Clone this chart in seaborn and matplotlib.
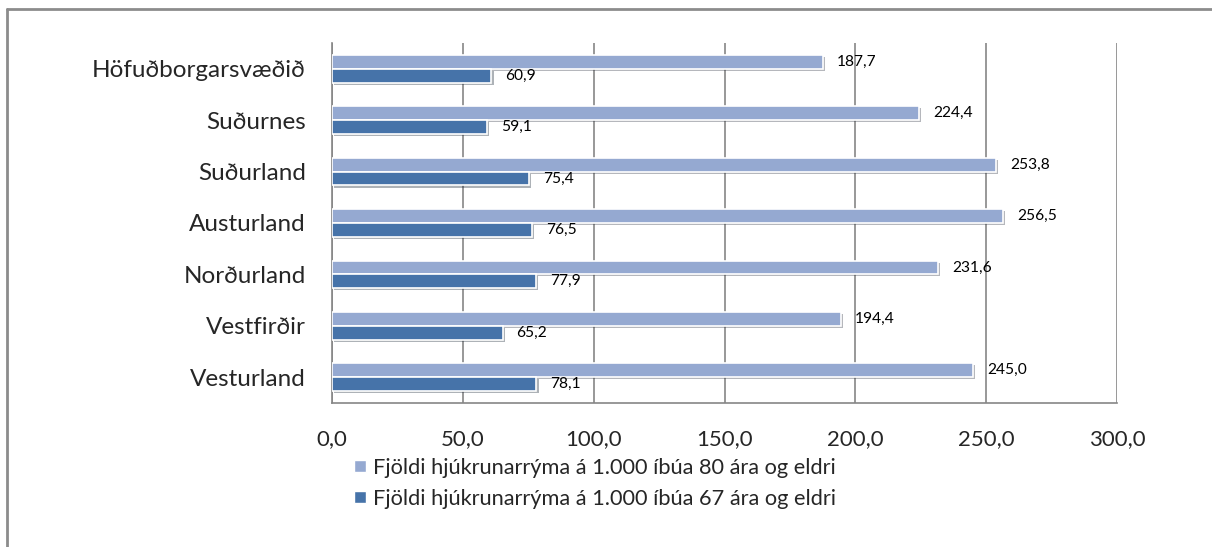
import pandas as pd
import matplotlib.pyplot as plt
import matplotlib.patheffects as pe
from matplotlib.lines import Line2D
import seaborn as sns
import numpy as np

# DATA
regions = ["Höfuðborgarsvæðið", "Suðurnes", "Suðurland", "Austurland",
           "Norðurland", "Vestfirðir", "Vesturland"]
beds_80 = [187.7, 224.4, 253.8, 256.5, 231.6, 194.4, 245.0]
beds_67 = [60.9, 59.1, 75.4, 76.5, 77.9, 65.2, 78.1]
series = ["Fjöldi hjúkrunarrýma á 1.000 íbúa 80 ára og eldri",
          "Fjöldi hjúkrunarrýma á 1.000 íbúa 67 ára og eldri"]
x_ticks = [0, 50, 100, 150, 200, 250, 300]

df = pd.DataFrame({
    "region": regions * 2,
    "value": beds_80 + beds_67,
    "series": [series[0]] * len(regions) + [series[1]] * len(regions),
})

# CONFIG
sns.set_style("white")
plt.rcParams["font.family"] = ["Lato", "DejaVu Sans"]
colors = ["#95A9D1", "#4673A9"]
grid_col = "#868686"

fig = plt.figure(figsize=(12.12, 5.47), dpi=100)
ax = fig.add_axes([0.274, 0.2633, 0.6477, 0.6581])

sns.barplot(data=df, x="value", y="region", hue="series", order=regions,
            hue_order=series, palette=colors, orient="h", width=0.54,
            edgecolor="white", linewidth=1.2, saturation=1, legend=False, ax=ax)

shadow = [pe.SimplePatchShadow(offset=(1.5, -1.5), alpha=0.35), pe.Normal()]
for patch in ax.patches:
    patch.set_path_effects(shadow)
    patch.set_zorder(3)

for cont in ax.containers:
    labels = [f"{v:.1f}".replace(".", ",") for v in cont.datavalues]
    ax.bar_label(cont, labels=labels, padding=10, fontsize=11.2, color="black")

# AXES
ax.set_xlim(0, 300)
ax.set_ylim(len(regions) - 0.5, -0.5)
ax.set_xticks(x_ticks)
ax.set_xticklabels([f"{t:.1f}".replace(".", ",") for t in x_ticks], fontsize=16)
ax.set_yticks(range(len(regions)))
ax.set_yticklabels(regions, fontsize=17.5)
ax.set_yticks(np.arange(-0.5, len(regions)), minor=True)
ax.tick_params(axis="y", which="major", length=0, pad=19)
ax.tick_params(axis="y", which="minor", length=7, color=grid_col, width=1.2)
ax.tick_params(axis="x", length=7, color=grid_col, width=1.2, pad=12, direction="out")
ax.set_xlabel("")
ax.set_ylabel("")
ax.xaxis.grid(True, color=grid_col, linewidth=1.2)
ax.set_axisbelow(True)
for side in ["top", "right"]:
    ax.spines[side].set_visible(False)
for side in ["left", "bottom"]:
    ax.spines[side].set_color(grid_col)
    ax.spines[side].set_linewidth(1.2)

# LEGEND
handles = [Line2D([0], [0], marker="s", linestyle="none", markersize=9,
                  markerfacecolor=c, markeredgecolor="white") for c in colors]
fig.legend(handles, series, loc="center", bbox_to_anchor=(0.489, 0.116),
           ncol=1, frameon=False, fontsize=15.7, handletextpad=0.15,
           labelspacing=0.5, handlelength=0.9)

# FRAME
fig.add_artist(Line2D([0.0058, 0.0058], [0, 1 - 9 / 547], color="#8C8C8C",
                      linewidth=2, transform=fig.transFigure))
fig.add_artist(Line2D([0.0058, 1], [1 - 9 / 547, 1 - 9 / 547], color="#8C8C8C",
                      linewidth=2, transform=fig.transFigure))

fig.savefig("out.png", dpi=100)
